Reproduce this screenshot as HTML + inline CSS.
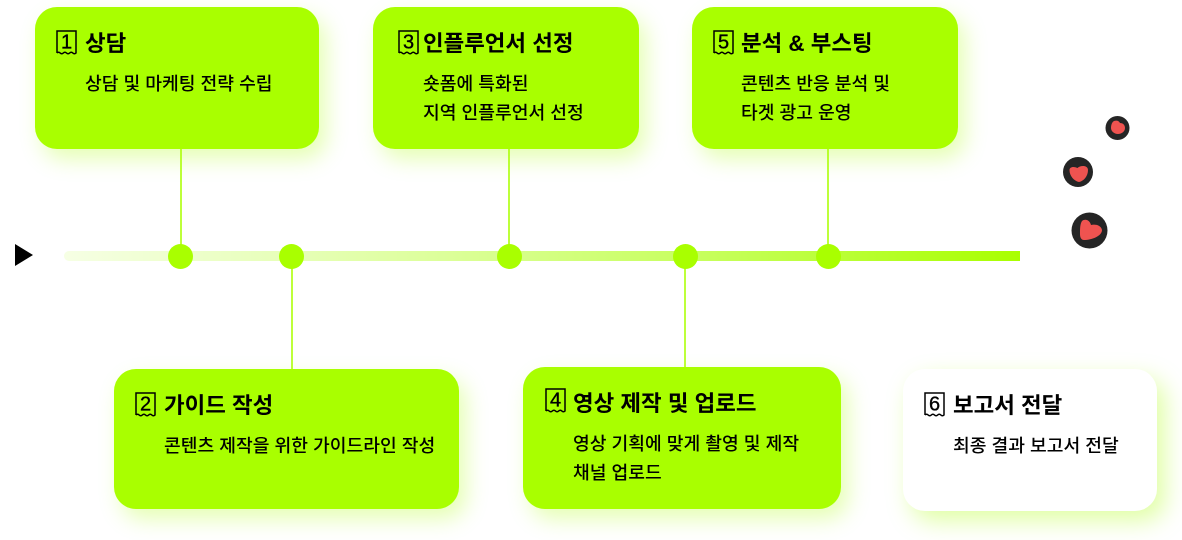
<!DOCTYPE html>
<html lang="ko"><head><meta charset="utf-8">
<style>
html,body{margin:0;padding:0;background:#fff}
#s{position:relative;width:1182px;height:540px;overflow:hidden;background:#fff;font-family:"Liberation Sans","Noto Sans CJK KR",sans-serif;color:#000}
.c{position:absolute;background:#a9ff00;border-radius:22px;box-shadow:7px 10px 22px rgba(169,255,0,.3)}
.c.w{background:#fff;box-shadow:8px 10px 24px rgba(169,255,0,.36)}
.t{position:absolute;font-size:22.4px;font-weight:700;line-height:30px;white-space:nowrap}
.b{position:absolute;font-size:18.2px;font-weight:500;line-height:29.4px;white-space:nowrap}
.i{position:absolute;width:21px;height:25px}
.l{position:absolute;width:2px;background:#bdff3a}
.d{position:absolute;width:25px;height:25px;border-radius:50%;background:#a9ff00}
svg text{font-family:"Liberation Sans",sans-serif;font-size:20px;font-weight:400;stroke:#000;stroke-width:.35}
</style></head><body><div id="s">
<div style="position:absolute;left:64px;top:251px;width:956px;height:10px;border-radius:5px 0 0 5px;background:linear-gradient(90deg,#f6ffe4 0%,#dcff99 40%,#c4ff55 70%,#a9ff00 100%)"></div>
<svg style="position:absolute;left:0;top:0" width="60" height="280"><polygon points="15,244 33,255 15,266" fill="#000"/></svg>

<div class="l" style="left:180px;top:149px;height:100px"></div>
<div class="l" style="left:291px;top:262px;height:107px"></div>
<div class="l" style="left:508px;top:149px;height:100px"></div>
<div class="l" style="left:684px;top:262px;height:105px"></div>
<div class="l" style="left:827px;top:149px;height:100px"></div>
<div class="d" style="left:168px;top:244px"></div>
<div class="d" style="left:279px;top:244px"></div>
<div class="d" style="left:497px;top:244px"></div>
<div class="d" style="left:673px;top:244px"></div>
<div class="d" style="left:816px;top:244px"></div>

<div class="c" style="left:35px;top:7px;width:284px;height:142px"></div>
<div class="c" style="left:114px;top:369px;width:345px;height:140px"></div>
<div class="c" style="left:373px;top:7px;width:266px;height:142px"></div>
<div class="c" style="left:523px;top:367px;width:318px;height:142px"></div>
<div class="c" style="left:692px;top:7px;width:266px;height:142px"></div>
<div class="c w" style="left:903px;top:369px;width:254px;height:142px"></div>

<svg class="i" style="left:56px;top:30px" viewBox="0 0 21 25"><path d="M1 23V1H20V23q-1.600 1.600-3.170 0t-3.170 0t-3.170 0t-3.170 0t-3.170 0t-3.150 0" fill="none" stroke="#000" stroke-width="1.500"/><text x="10.500" y="18.500" text-anchor="middle">1</text></svg>
<div class="t" style="left:85px;top:29px">상담</div>
<div class="b" style="left:85px;top:70px">상담 및 마케팅 전략 수립</div>

<svg class="i" style="left:135px;top:392px" viewBox="0 0 21 25"><path d="M1 23V1H20V23q-1.600 1.600-3.170 0t-3.170 0t-3.170 0t-3.170 0t-3.170 0t-3.150 0" fill="none" stroke="#000" stroke-width="1.500"/><text x="10.500" y="18.500" text-anchor="middle">2</text></svg>
<div class="t" style="left:164px;top:391px">가이드 작성</div>
<div class="b" style="left:164px;top:432px">콘텐츠 제작을 위한 가이드라인 작성</div>

<svg class="i" style="left:398px;top:30px" viewBox="0 0 21 25"><path d="M1 23V1H20V23q-1.600 1.600-3.170 0t-3.170 0t-3.170 0t-3.170 0t-3.170 0t-3.150 0" fill="none" stroke="#000" stroke-width="1.500"/><text x="10.500" y="18.500" text-anchor="middle">3</text></svg>
<div class="t" style="left:423px;top:29px">인플루언서 선정</div>
<div class="b" style="left:423px;top:70px">숏폼에 특화된<br>지역 인플루언서 선정</div>

<svg class="i" style="left:545px;top:388px" viewBox="0 0 21 25"><path d="M1 23V1H20V23q-1.600 1.600-3.170 0t-3.170 0t-3.170 0t-3.170 0t-3.170 0t-3.150 0" fill="none" stroke="#000" stroke-width="1.500"/><text x="10.500" y="18.500" text-anchor="middle">4</text></svg>
<div class="t" style="left:573px;top:389px">영상 제작 및 업로드</div>
<div class="b" style="left:573px;top:430px">영상 기획에 맞게 촬영 및 제작<br>채널 업로드</div>

<svg class="i" style="left:713px;top:30px" viewBox="0 0 21 25"><path d="M1 23V1H20V23q-1.600 1.600-3.170 0t-3.170 0t-3.170 0t-3.170 0t-3.170 0t-3.150 0" fill="none" stroke="#000" stroke-width="1.500"/><text x="10.500" y="18.500" text-anchor="middle">5</text></svg>
<div class="t" style="left:741px;top:29px">분석 &amp; 부스팅</div>
<div class="b" style="left:741px;top:70px">콘텐츠 반응 분석 및<br>타겟 광고 운영</div>

<svg class="i" style="left:924px;top:392px" viewBox="0 0 21 25"><path d="M1 23V1H20V23q-1.600 1.600-3.170 0t-3.170 0t-3.170 0t-3.170 0t-3.170 0t-3.150 0" fill="none" stroke="#000" stroke-width="1.500"/><text x="10.500" y="18.500" text-anchor="middle">6</text></svg>
<div class="t" style="left:953px;top:391px">보고서 전달</div>
<div class="b" style="left:953px;top:432px">최종 결과 보고서 전달</div>

<svg style="position:absolute;left:1040px;top:100px" width="100" height="160">
<circle cx="77.500" cy="28" r="12" fill="#252525"/>
<path d="M74 21c3-1 5 0 6 2c3 0 5 2 5 5c0 4-4 6-7 6c-4 0-7-3-7-6c0-3 1-6 3-7z" fill="#ef5350"/>
<circle cx="38" cy="72" r="15" fill="#252525"/>
<path d="M29.500 70c0-3 4-4 8-2c3-3 10.500-3 10.500 2c0 6-4 11-9 12c-5-1-9.500-6-9.500-12z" fill="#ef5350"/>
<circle cx="49.500" cy="130.500" r="18" fill="#252525"/>
<path d="M42 121C46 118 50 121 51 125C55 124 61 125 62 130C62 136 52 140 44 140C41 140 40 137 40 134C40 129 40 124 42 121z" fill="#ef5350"/>
</svg>
</div></body></html>
